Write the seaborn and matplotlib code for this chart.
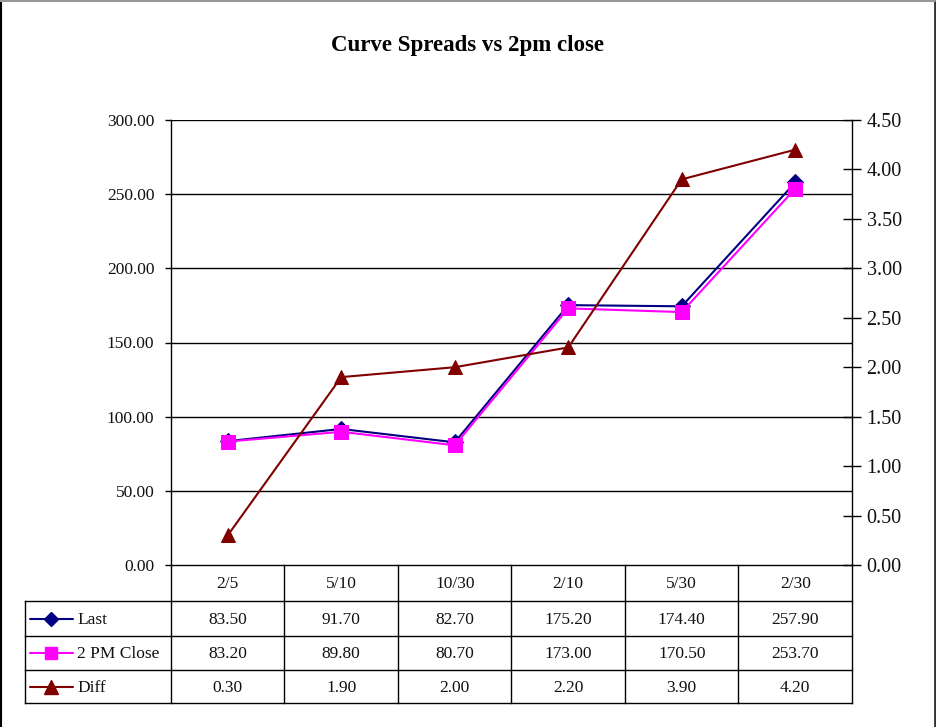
import matplotlib
matplotlib.use("Agg")
import matplotlib.pyplot as plt
import seaborn as sns
import pandas as pd
from matplotlib.lines import Line2D

sns.set_theme(style="white")
plt.rcParams["font.family"] = ["Liberation Serif", "DejaVu Serif"]

# ---- data ----
categories = ["2/5", "5/10", "10/30", "2/10", "5/30", "2/30"]
last = [83.50, 91.70, 82.70, 175.20, 174.40, 257.90]
close_2pm = [83.20, 89.80, 80.70, 173.00, 170.50, 253.70]
diff = [0.30, 1.90, 2.00, 2.20, 3.90, 4.20]
series_names = ["Last", "2 PM Close", "Diff"]
left_ticks = [0, 50, 100, 150, 200, 250, 300]
right_ticks = [0, 0.5, 1.0, 1.5, 2.0, 2.5, 3.0, 3.5, 4.0, 4.5]

NAVY = "#000080"
MAGENTA = "#FF00FF"
MAROON = "#800000"
TXT = "#111111"

W, H = 937, 727
fig = plt.figure(figsize=(W / 100, H / 100), dpi=100)
fig.patch.set_facecolor("white")


def fx(px):
    return px / W


def fy(py):
    return 1 - py / H


# outer frame of the chart object
fig.add_artist(Line2D([fx(1), fx(1)], [0, 1], color="black", lw=1.5))
fig.add_artist(Line2D([fx(935), fx(935)], [0, 1], color="#333333", lw=2))
fig.add_artist(Line2D([0, fx(935)], [fy(0.5), fy(0.5)], color="#999999", lw=1.5))

# ---- main plot area ----
L, R, T, B = 171, 852, 120, 565
ax = fig.add_axes([fx(L), fy(B), fx(R) - fx(L), fy(T) - fy(B)])
ax.set_facecolor("white")

df = pd.DataFrame({"x": range(len(categories)), "Last": last, "2 PM Close": close_2pm})

sns.lineplot(data=df, x="x", y="Last", ax=ax, color=NAVY, lw=1.5,
             marker="D", markersize=8, markeredgecolor=NAVY, legend=False)
sns.lineplot(data=df, x="x", y="2 PM Close", ax=ax, color=MAGENTA, lw=1.5,
             marker="s", markersize=9.5, markeredgecolor=MAGENTA, legend=False)

ax.set_xlim(-0.5, len(categories) - 0.5)
ax.set_ylim(0, 300)
ax.set_yticks(left_ticks)
ax.set_yticklabels([f"{v:.2f}" for v in left_ticks], fontsize=12.5, color=TXT)
ax.set_xticks([])
ax.set_xlabel("")
ax.set_ylabel("")
for v in left_ticks[1:]:
    ax.axhline(v, color="black", lw=1, zorder=0)
ax.tick_params(axis="y", direction="out", length=4, width=1, color="black",
               pad=8, left=True)
for side in ["top", "right"]:
    ax.spines[side].set_visible(False)
for side in ["left", "bottom"]:
    ax.spines[side].set_color("black")
    ax.spines[side].set_linewidth(1)

# secondary axis for Diff
ax2 = ax.twinx()
sns.lineplot(x=list(range(len(categories))), y=diff, ax=ax2, color=MAROON, lw=1.5,
             marker="^", markersize=10, markeredgecolor=MAROON, legend=False)
ax2.set_ylim(0, 4.5)
ax2.set_yticks(right_ticks)
ax2.set_yticklabels([f"{v:.2f}" for v in right_ticks], fontsize=14.5, color=TXT)
ax2.tick_params(axis="y", direction="inout", length=13, width=1, color="black",
                pad=4, right=True)
for side in ["top", "left", "bottom"]:
    ax2.spines[side].set_visible(False)
ax2.spines["right"].set_color("black")
ax2.spines["right"].set_linewidth(1)
ax2.set_xlim(-0.5, len(categories) - 0.5)

fig.text(fx(468), fy(45), "Curve Spreads vs 2pm close", ha="center", va="center",
         fontsize=16.5, fontweight="bold", color="black")

# ---- data table underneath ----
TL, TB = 25, 703
tab = fig.add_axes([fx(TL), fy(TB), fx(R) - fx(TL), fy(B) - fy(TB)])
tab.set_xlim(TL, R)
tab.set_ylim(TB, B)
tab.axis("off")

n = len(categories)
col_w = (R - L) / n
col_edges = [L + i * col_w for i in range(n + 1)]
row_edges = [B, 601, 636, 670, TB]
lk = dict(color="black", lw=1, solid_capstyle="projecting", clip_on=False)

for xe in col_edges:
    tab.plot([xe, xe], [B, TB], **lk)
tab.plot([TL, TL], [row_edges[1], TB], **lk)
for ye in row_edges[1:]:
    tab.plot([TL, R], [ye, ye], **lk)

FS = 12.5
for i, c in enumerate(categories):
    cx = col_edges[i] + col_w / 2
    tab.text(cx, (row_edges[0] + row_edges[1]) / 2 + 1, c, ha="center", va="center",
             fontsize=FS, color=TXT)

rows = [last, close_2pm, diff]
styles = [(NAVY, "D", 7), (MAGENTA, "s", 9), (MAROON, "^", 9.5)]
for r, (vals, name, (col, mk, ms)) in enumerate(zip(rows, series_names, styles)):
    cy = (row_edges[r + 1] + row_edges[r + 2]) / 2 + 1
    tab.plot([30, 73], [cy - 1, cy - 1], color=col, lw=1.5)
    tab.plot([51.5], [cy - 1], marker=mk, color=col, markersize=ms, markeredgecolor=col)
    tab.text(77, cy, name, ha="left", va="center", fontsize=FS, color=TXT)
    for i, v in enumerate(vals):
        cx = col_edges[i] + col_w / 2
        tab.text(cx, cy, f"{v:.2f}", ha="center", va="center", fontsize=FS, color=TXT)

fig.savefig("out.png", dpi=100, facecolor="white")
